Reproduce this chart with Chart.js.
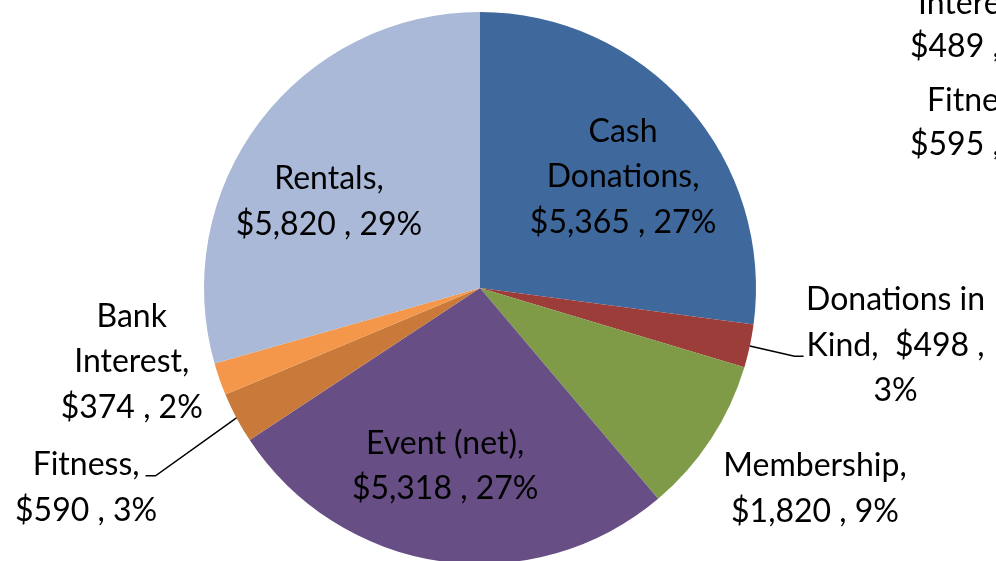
<!DOCTYPE html>
<html>
<head>
<meta charset="utf-8">
<script src="https://cdn.jsdelivr.net/npm/chart.js@4.4.1/dist/chart.umd.min.js"></script>
<style>
  html, body { margin: 0; padding: 0; background: #fff; overflow: hidden; }
  #wrap { position: relative; width: 996px; height: 576px; }
</style>
</head>
<body>
<div id="wrap"><canvas id="chartIncome"></canvas></div>
<script>
// income sources, clockwise from 12 o'clock
const categories = ['Cash Donations', 'Donations in Kind', 'Membership', 'Event (net)', 'Fitness', 'Bank Interest', 'Rentals'];
const amounts = [5365, 498, 1820, 5318, 590, 374, 5820];
const sliceColors = ['#3f699d', '#9c3d3a', '#7f9b48', '#674f86', '#c9793a', '#f5974a', '#aab9d7'];

// how Excel broke each data label ({v} = value, {p} = percent)
const labelTemplates = [
  'Cash\nDonations,\n{v} , {p}',
  'Donations in\nKind,  {v} ,\n{p}',
  'Membership,\n{v} , {p}',
  'Event (net),\n{v} , {p}',
  'Fitness,\n{v} , {p}',
  'Bank\nInterest,\n{v} , {p}',
  'Rentals,\n{v} , {p}'
];

// labels of the neighbouring chart, cut off at the right edge
const clippedText = ['Interest,', '$489 , 2%', 'Fitness,', '$595 , 3%'];

// label placement relative to each slice: radius factor, angle shift (deg), leader side
const labelPlace = [
  { rf: 0.656, da: 3.4 },
  { rf: 1.52, da: -4.3, leader: 'left', line: 1 },
  { rf: 1.415, da: -2.3 },
  { rf: 0.657, da: 2.9 },
  { rf: 1.60, da: 1.2, leader: 'right', line: 0 },
  { rf: 1.29, da: 7.3 },
  { rf: 0.63, da: -7.35 }
];

const FONT = '32px Lato, "Noto Sans", sans-serif';
const LINE_H = 45.5;

function fmtMoney(n) {
  return '$' + Number(n).toLocaleString('en-US');
}

const total = amounts.reduce((a, b) => a + b, 0);

const labelPlugin = {
  id: 'excelLabels',
  afterDraw(chart) {
    const ctx = chart.ctx;
    const meta = chart.getDatasetMeta(0);
    ctx.save();
    ctx.font = FONT;
    ctx.fillStyle = '#000';
    ctx.textAlign = 'center';
    ctx.textBaseline = 'middle';
    meta.data.forEach((arc, i) => {
      const p = arc.getProps(['x', 'y', 'startAngle', 'endAngle', 'outerRadius'], true);
      const mid = (p.startAngle + p.endAngle) / 2;
      const place = labelPlace[i];
      const a = mid + place.da * Math.PI / 180;
      const cx = p.x + Math.cos(a) * p.outerRadius * place.rf;
      const cy = p.y + Math.sin(a) * p.outerRadius * place.rf;
      const pct = Math.round(amounts[i] / total * 100) + '%';
      const lines = labelTemplates[i].replace('{v}', fmtMoney(amounts[i])).replace('{p}', pct).split('\n');
      const top = cy - (lines.length - 1) * LINE_H / 2;
      lines.forEach((ln, k) => ctx.fillText(ln, cx, top + k * LINE_H));

      if (place.leader) {
        const ly = top + place.line * LINE_H + 11;
        const w = ctx.measureText(lines[place.line]).width;
        const sx = p.x + Math.cos(mid) * p.outerRadius;
        const sy = p.y + Math.sin(mid) * p.outerRadius;
        let ex, fx;
        if (place.leader === 'left') {
          ex = cx - w / 2 - 12; fx = cx - w / 2 - 3;
        } else {
          ex = cx + w / 2 + 16; fx = cx + w / 2 + 6;
        }
        ctx.beginPath();
        ctx.strokeStyle = '#000';
        ctx.lineWidth = 1.5;
        ctx.moveTo(sx, sy);
        ctx.lineTo(ex, ly);
        ctx.lineTo(fx, ly);
        ctx.stroke();
      }
    });

    // neighbouring chart's labels, half off canvas
    ctx.textAlign = 'left';
    const xs = [918, 910, 927, 910];
    const ys = [4, 47, 101, 145];
    clippedText.forEach((t, k) => ctx.fillText(t, xs[k], ys[k]));
    ctx.restore();
  }
};

window.addEventListener('DOMContentLoaded', () => {
  const canvas = document.getElementById('chartIncome');
  new Chart(canvas.getContext('2d'), {
    type: 'pie',
    data: {
      labels: categories,
      datasets: [{
        data: amounts,
        backgroundColor: sliceColors,
        borderWidth: 0
      }]
    },
    options: {
      responsive: true,
      maintainAspectRatio: false,
      animation: false,
      layout: { padding: { top: 12, bottom: 12, left: 0, right: 36 } },
      plugins: {
        legend: { display: false },
        tooltip: { enabled: false }
      }
    },
    plugins: [labelPlugin]
  });
});
</script>
</body>
</html>
